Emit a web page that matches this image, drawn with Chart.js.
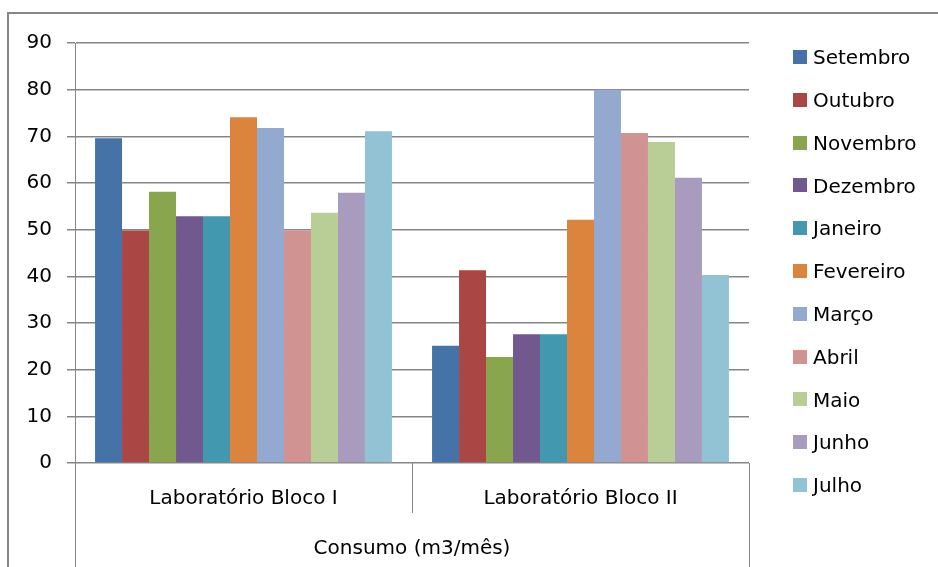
<!DOCTYPE html>
<html>
<head>
<meta charset="utf-8">
<script src="https://cdn.jsdelivr.net/npm/chart.js@4/dist/chart.umd.min.js"></script>
<style>
  html, body { margin: 0; padding: 0; background: #ffffff; }
  #wrap { width: 938px; height: 567px; position: relative; }
</style>
</head>
<body>
<div id="wrap"><canvas id="chart"></canvas></div>
<script>
// consumo de agua por laboratorio

const categories = ['Laboratório Bloco I', 'Laboratório Bloco II'];
const months = ['Setembro', 'Outubro', 'Novembro', 'Dezembro', 'Janeiro', 'Fevereiro',
  'Março', 'Abril', 'Maio', 'Junho', 'Julho'];

const bloco1 = [69.6, 49.8, 58.1, 52.9, 52.9, 74.1, 71.8, 49.8, 53.6, 57.9, 71.1];
const bloco2 = [25.1, 41.3, 22.7, 27.6, 27.6, 52.1, 80.0, 70.7, 68.8, 61.1, 40.3];

const monthColors = ['#4572a7', '#aa4643', '#89a54e', '#71588f', '#4198af', '#db843d',
  '#94a9cf', '#d19392', '#b9cd96', '#a99bbd', '#92c3d4'];

const yTicks = [0, 10, 20, 30, 40, 50, 60, 70, 80, 90];
const axisTitle = 'Consumo (m3/mês)';

const gray = '#868686';
const fontFamily = '"DejaVu Sans", sans-serif';

Chart.defaults.font.family = fontFamily;
Chart.defaults.color = '#000000';

// frame, category dividers and the legend on the right
const decorations = {
  id: 'decorations',
  beforeDraw(chart) {
    const ctx = chart.ctx;
    ctx.save();
    ctx.fillStyle = '#ffffff';
    ctx.fillRect(0, 0, chart.width, chart.height);
    ctx.strokeStyle = gray;
    ctx.lineWidth = 2;
    ctx.beginPath();
    ctx.moveTo(8, chart.height + 2);
    ctx.lineTo(8, 13);
    ctx.lineTo(chart.width + 2, 13);
    ctx.stroke();
    ctx.restore();
  },
  afterDraw(chart) {
    const ctx = chart.ctx;
    const area = chart.chartArea;
    const n = categories.length;
    const step = (area.right - area.left) / n;

    ctx.save();
    ctx.strokeStyle = gray;
    ctx.lineWidth = 1;
    for (let i = 0; i <= n; i++) {
      const x = Math.round(area.left + i * step) + 0.5;
      const end = (i === 0 || i === n) ? chart.height : area.bottom + 50;
      ctx.beginPath();
      ctx.moveTo(x, area.bottom);
      ctx.lineTo(x, end);
      ctx.stroke();
    }

    // legend
    ctx.font = '20px ' + fontFamily;
    ctx.textBaseline = 'middle';
    ctx.textAlign = 'left';
    chart.data.datasets.forEach((ds, i) => {
      const y = area.top + 14 + i * 42.8;
      const x = area.right + 44;
      ctx.fillStyle = ds.backgroundColor;
      ctx.fillRect(x, Math.round(y - 7), 14, 14);
      ctx.fillStyle = '#000000';
      ctx.fillText(ds.label, x + 20, y + 2);
    });
    ctx.restore();
  }
};

const datasets = months.map((m, i) => ({
  label: m,
  data: [bloco1[i], bloco2[i]],
  backgroundColor: monthColors[i],
  borderWidth: 0
}));

new Chart(document.getElementById('chart'), {
  type: 'bar',
  data: {
    labels: categories,
    datasets: datasets
  },
  options: {
    responsive: true,
    maintainAspectRatio: false,
    animation: false,
    devicePixelRatio: 1,
    layout: {
      padding: { left: 0, top: 43, right: 189, bottom: 0 }
    },
    datasets: {
      bar: {
        categoryPercentage: 0.881,
        barPercentage: 1
      }
    },
    plugins: {
      legend: { display: false },
      tooltip: { enabled: false }
    },
    scales: {
      x: {
        afterFit(scale) { scale.height = 104; },
        grid: { display: false, drawTicks: false },
        border: { display: false },
        ticks: {
          font: { size: 20 },
          color: '#000000',
          padding: 24,
          maxRotation: 0
        },
        title: {
          display: true,
          text: axisTitle,
          font: { size: 20 },
          color: '#000000',
          padding: { top: 0, bottom: 6 }
        }
      },
      y: {
        min: 0,
        max: 90,
        afterFit(scale) { scale.width = 75; },
        afterBuildTicks(scale) {
          scale.ticks = yTicks.map(v => ({ value: v }));
        },
        grid: {
          color: gray,
          lineWidth: 1.5,
          tickLength: 8,
          tickColor: gray
        },
        border: { display: true, color: gray, width: 1 },
        ticks: {
          font: { size: 20 },
          color: '#000000',
          padding: 15
        }
      }
    }
  },
  plugins: [decorations]
});
</script>
</body>
</html>
